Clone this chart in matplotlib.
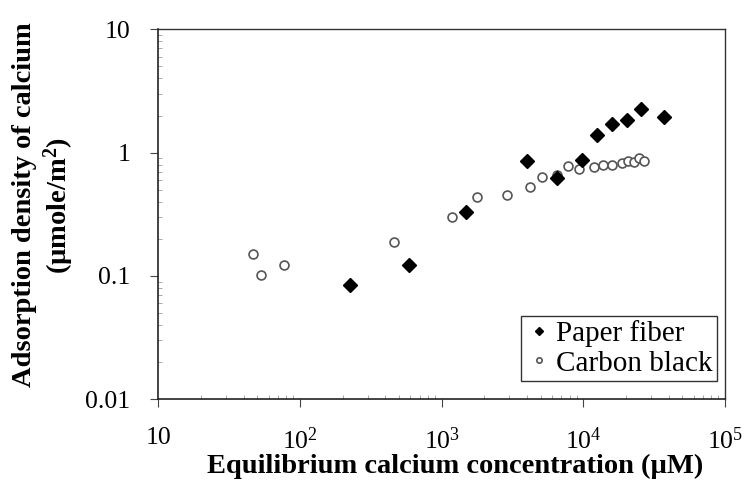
import matplotlib
matplotlib.use("Agg")
import matplotlib.pyplot as plt
from matplotlib.ticker import LogLocator, NullFormatter, FixedLocator, FixedFormatter

plt.rcParams["font.family"] = ["Liberation Serif", "DejaVu Serif"]
plt.rcParams["mathtext.fontset"] = "custom"
plt.rcParams["mathtext.rm"] = "Liberation Serif"
plt.rcParams["mathtext.it"] = "Liberation Serif:italic"
plt.rcParams["mathtext.bf"] = "Liberation Serif:bold"

# paper fiber (filled diamonds)
fiber_conc = [225, 588, 1476, 3981, 6546, 9730, 12530, 16000, 20230, 25360, 37060]
fiber_ads = [0.084, 0.122, 0.332, 0.86, 0.619, 0.871, 1.39, 1.70, 1.84, 2.26, 1.96]

# carbon black (open circles)
carbon_conc = [46.8, 53, 77.4, 463, 1189, 1766, 2904, 4198, 5128, 6546, 7820,
               9350, 11880, 13800, 15850, 18630, 20750, 22760, 24670, 26780]
carbon_ads = [0.152, 0.101, 0.123, 0.189, 0.298, 0.434, 0.456, 0.529, 0.630,
              0.658, 0.778, 0.732, 0.768, 0.789, 0.798, 0.828, 0.86, 0.844,
              0.904, 0.86]

x_ticks = [10, 1e2, 1e3, 1e4, 1e5]
x_tick_labels = ["10", "10$^2$", "10$^3$", "10$^4$", "10$^5$"]
y_ticks = [0.01, 0.1, 1, 10]
y_tick_labels = ["0.01", "0.1", "1", "10"]

fig = plt.figure(figsize=(7.47, 4.83), dpi=100)
ax = fig.add_axes([0.2119, 0.1733, 0.9705 - 0.2119, 0.9393 - 0.1733])

ax.plot(carbon_conc, carbon_ads, linestyle="none", marker="o", ms=6.4,
        mfc="white", mec="#555555", mew=1.2, label="Carbon black", zorder=2)
ax.plot(fiber_conc, fiber_ads, linestyle="none", marker="D", ms=7.0,
        mfc="black", mec="black", label="Paper fiber", zorder=3)

ax.set_xscale("log")
ax.set_yscale("log")
ax.set_xlim(10, 1e5)
ax.set_ylim(0.01, 10)

ax.xaxis.set_major_locator(FixedLocator(x_ticks))
ax.xaxis.set_major_formatter(FixedFormatter(x_tick_labels))
ax.yaxis.set_major_locator(FixedLocator(y_ticks))
ax.yaxis.set_major_formatter(FixedFormatter(y_tick_labels))
ax.xaxis.set_minor_locator(LogLocator(base=10, subs=range(2, 10)))
ax.yaxis.set_minor_locator(LogLocator(base=10, subs=range(2, 10)))
ax.xaxis.set_minor_formatter(NullFormatter())
ax.yaxis.set_minor_formatter(NullFormatter())

ax.tick_params(which="major", direction="out", length=6, width=0.8,
               color="#444444", labelsize=18.5)
ax.tick_params(axis="x", which="major", pad=14)
ax.tick_params(axis="y", which="major", pad=14)
ax.tick_params(which="minor", direction="in", length=3, width=0.6,
               color="#999999")
ax.tick_params(top=False, right=False, which="both")

for side in ["left", "bottom"]:
    ax.spines[side].set_linewidth(1.2)
    ax.spines[side].set_color("#222222")
for side in ["top", "right"]:
    ax.spines[side].set_linewidth(1.0)
    ax.spines[side].set_color("#333333")

ax.set_xlabel("Equilibrium calcium concentration (\u00b5M)", fontsize=20.5,
              fontweight="bold")
ax.xaxis.set_label_coords(0.523, -0.148)
ax.set_ylabel("Adsorption density of calcium\n(\u00b5mole/m$^\\mathbf{2}$)",
              fontsize=20.5, fontweight="bold", linespacing=1.15)
ax.yaxis.set_label_coords(-0.146, 0.525)

handles, labels = ax.get_legend_handles_labels()
leg = ax.legend(handles[::-1], labels[::-1], loc="lower right",
                bbox_to_anchor=(0.986, 0.0495), fontsize=21,
                frameon=True, fancybox=False, edgecolor="black",
                markerscale=0.6, handletextpad=0.15, handlelength=0.9,
                borderpad=0.15, labelspacing=0.1, borderaxespad=0.0)
leg.get_frame().set_linewidth(1.0)

fig.savefig("out.png", dpi=100)
